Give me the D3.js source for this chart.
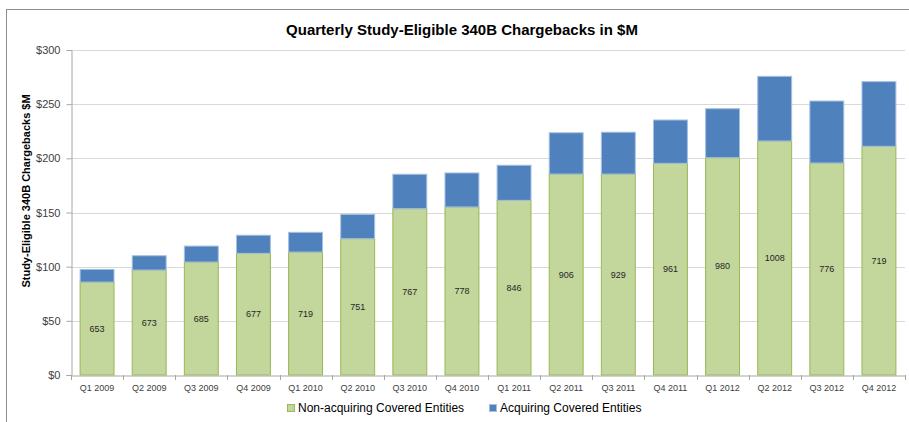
<!DOCTYPE html>
<html>
<head>
<meta charset="utf-8">
<script src="https://cdn.jsdelivr.net/npm/d3@7"></script>
<style>
  body { margin: 0; background: #fff; }
  svg { display: block; }
  text { font-family: "Liberation Sans", Arial, sans-serif; }
</style>
</head>
<body>
<svg id="chart" width="909" height="422"></svg>
<script>
const categories = ["Q1 2009","Q2 2009","Q3 2009","Q4 2009","Q1 2010","Q2 2010","Q3 2010","Q4 2010",
  "Q1 2011","Q2 2011","Q3 2011","Q4 2011","Q1 2012","Q2 2012","Q3 2012","Q4 2012"];
const nonAcquiring = [85.8, 96.9, 104.3, 112.3, 113.5, 125.8, 153.5, 155.1, 161.2, 185.5, 185.5, 195.4, 200.6, 216.0, 195.7, 211.1];
const acquiring = [11.7, 13.2, 14.7, 16.7, 18.2, 22.5, 31.8, 31.4, 32.4, 38.1, 38.6, 40.0, 45.2, 59.7, 57.2, 59.7];
const entityCounts = ["653","673","685","677","719","751","767","778","846","906","929","961","980","1008","776","719"];
const yTicks = [0, 50, 100, 150, 200, 250, 300];
const seriesNames = ["Non-acquiring Covered Entities", "Acquiring Covered Entities"];

const svg = d3.select("#chart");
const W = 909, H = 422;
const m = { left: 71, right: 4, top: 50, bottom: 47 };
const colors = { fill: ["#C3D69B", "#4F81BD"], stroke: ["#98B954", "#A7C0E0"] };

// outer frame
svg.append("rect").attr("x", 6.5).attr("y", 9.5).attr("width", 910).attr("height", 420)
  .attr("fill", "none").attr("stroke", "#8c8c8c").attr("stroke-width", 1);

const x = d3.scaleBand().domain(categories).range([m.left, W - m.right]).paddingInner(0.33).paddingOuter(0.165);
const y = d3.scaleLinear().domain([0, 300]).range([H - m.bottom, m.top]);

// gridlines
svg.append("g").selectAll("line").data(yTicks.filter(d => d > 0)).join("line")
  .attr("x1", m.left).attr("x2", W - m.right)
  .attr("y1", d => Math.round(y(d)) + 0.5).attr("y2", d => Math.round(y(d)) + 0.5)
  .attr("stroke", "#d9d9d9");

// y axis
const yAxis = svg.append("g").attr("transform", `translate(${m.left + 0.5},0)`)
  .call(d3.axisLeft(y).tickValues(yTicks).tickFormat(d => "$" + d).tickSize(5).tickPadding(6));
yAxis.select(".domain").attr("stroke", "#a6a6a6");
yAxis.selectAll(".tick line").attr("stroke", "#a6a6a6");
yAxis.selectAll("text").attr("font-size", 11).attr("fill", "#404040");

// stacked data
const stackData = categories.map((c, i) => ({ cat: c, a: nonAcquiring[i], b: acquiring[i] }));
const stack = d3.stack().keys(["a", "b"])(stackData);

svg.append("g").selectAll("g").data(stack).join("g")
  .each(function(layer, li) {
    d3.select(this).selectAll("rect").data(layer).join("rect")
      .attr("x", d => x(d.data.cat) + 0.5)
      .attr("width", x.bandwidth() - 1)
      .attr("y", d => y(d[1]))
      .attr("height", d => y(d[0]) - y(d[1]))
      .attr("fill", colors.fill[li])
      .attr("stroke", colors.stroke[li])
      .attr("stroke-width", 1);
  });

// x axis
const xAxis = svg.append("g").attr("transform", `translate(0,${y(0) + 0.5})`)
  .call(d3.axisBottom(x).tickSize(0).tickPadding(9));
xAxis.select(".domain").attr("stroke", "#a6a6a6");
xAxis.selectAll("text").attr("font-size", 9).attr("fill", "#404040");
// category separator ticks
svg.append("g").selectAll("line").data(d3.range(categories.length + 1)).join("line")
  .attr("x1", i => Math.round(m.left + i * (W - m.right - m.left) / categories.length) + 0.5)
  .attr("x2", i => Math.round(m.left + i * (W - m.right - m.left) / categories.length) + 0.5)
  .attr("y1", y(0)).attr("y2", y(0) + 5)
  .attr("stroke", "#a6a6a6");

// data labels
svg.append("g").selectAll("text").data(stackData).join("text")
  .attr("x", d => x(d.cat) + x.bandwidth() / 2)
  .attr("y", d => (y(0) + y(d.a)) / 2)
  .attr("dy", "0.35em")
  .attr("text-anchor", "middle")
  .attr("font-size", 9)
  .attr("fill", "#262626")
  .text((d, i) => entityCounts[i]);

// title
svg.append("text").attr("x", 462).attr("y", 35).attr("text-anchor", "middle")
  .attr("font-size", 15).attr("font-weight", "bold").attr("fill", "#000")
  .text("Quarterly Study-Eligible 340B Chargebacks in $M");

// y axis title
svg.append("text").attr("transform", "translate(30,191) rotate(-90)")
  .attr("text-anchor", "middle").attr("font-size", 11).attr("font-weight", "bold").attr("fill", "#000")
  .text("Study-Eligible 340B Chargebacks $M");

// legend
const legend = svg.append("g");
const lx = [287, 489];
seriesNames.forEach((name, i) => {
  legend.append("rect").attr("x", lx[i] + 0.5).attr("y", 404.5).attr("width", 7).attr("height", 7)
    .attr("fill", colors.fill[i]).attr("stroke", colors.stroke[i]);
  legend.append("text").attr("x", lx[i] + 11).attr("y", 408).attr("dy", "0.35em")
    .attr("font-size", 12).attr("fill", "#000").text(name);
});
</script>
</body>
</html>
